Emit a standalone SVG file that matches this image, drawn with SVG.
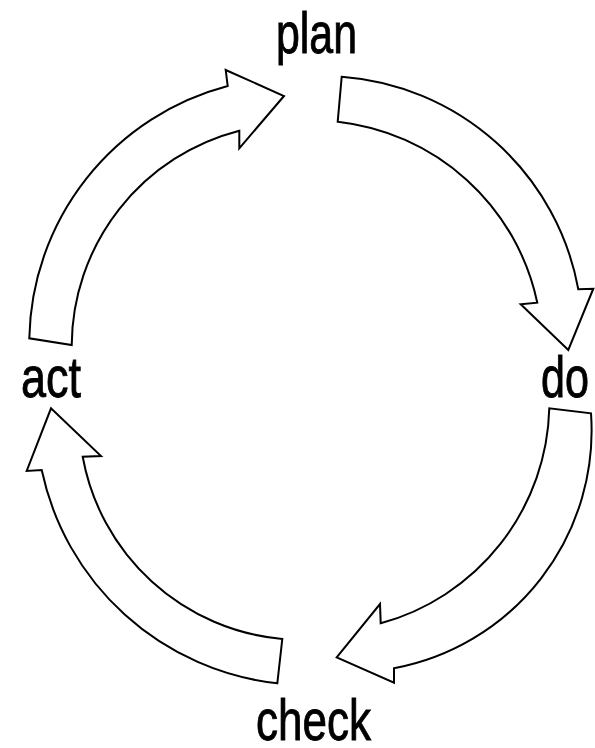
<svg xmlns="http://www.w3.org/2000/svg" width="595" height="748" viewBox="0 0 595 748">
  <style>
    .arrow { fill: #ffffff; stroke: #000000; stroke-width: 2; stroke-linejoin: miter; }
    .label { font-family: "Liberation Sans", Arial, sans-serif; font-size: 57px; fill: #000000; stroke: #000000; stroke-width: 0.9; }
  </style>
  <rect width="595" height="748" fill="#ffffff"/>

  <!-- curved block arrows forming the cycle -->
  <g id="connectors">
    <!-- act to plan -->
    <path id="arrow-act-plan" class="arrow"
          d="M 29.3 338.3 A 266 266 0 0 1 227.7 86 L 225.7 70 L 284 96 L 239.3 148.3 L 239.3 130.7 A 223 223 0 0 0 71.7 345 Z"/>
    <!-- plan to do -->
    <path id="arrow-plan-do" class="arrow"
          d="M 341.7 76.7 A 260 260 0 0 1 578.3 289.3 L 593.3 288.7 L 568.3 350 L 520.7 304.3 L 537.3 302.7 A 230 230 0 0 0 337.7 121.7 Z"/>
    <!-- do to check -->
    <path id="arrow-do-check" class="arrow"
          d="M 591 413.3 A 242 242 0 0 1 394 668.3 L 394 682.7 L 336.7 657.3 L 380 604 L 380.7 623.3 A 229 229 0 0 0 549.3 408.3 Z"/>
    <!-- check to act -->
    <path id="arrow-check-act" class="arrow"
          d="M 277.3 683.3 A 271 271 0 0 1 41.7 470 L 26.7 471 L 51 408.3 L 101 456 L 82.7 456.7 A 223 223 0 0 0 282.3 639 Z"/>
  </g>

  <g id="node-plan">
    <text class="label" x="276" y="53" textLength="81" lengthAdjust="spacingAndGlyphs">plan</text>
  </g>
  <g id="node-do">
    <text class="label" x="541" y="397" textLength="48" lengthAdjust="spacingAndGlyphs">do</text>
  </g>
  <g id="node-check">
    <text class="label" x="256" y="740" textLength="115" lengthAdjust="spacingAndGlyphs">check</text>
  </g>
  <g id="node-act">
    <text class="label" x="21" y="397" textLength="60" lengthAdjust="spacingAndGlyphs">act</text>
  </g>
</svg>
